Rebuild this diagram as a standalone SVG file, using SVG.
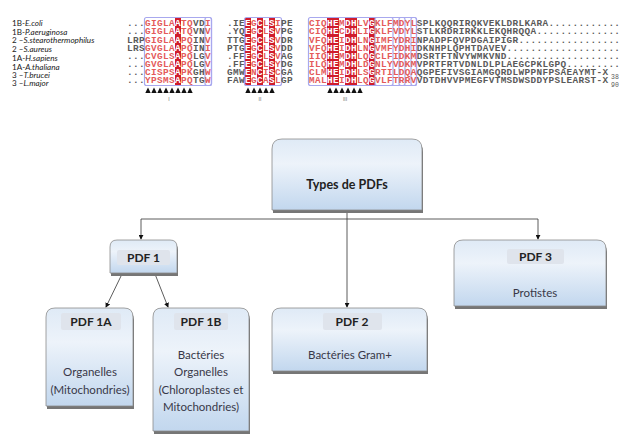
<svg xmlns="http://www.w3.org/2000/svg" width="627" height="443" viewBox="0 0 627 443">
<style>
.lbl{font-family:Lato,"Liberation Sans",Arial,sans-serif;font-size:8.1px;fill:#1a1a1a}
.it{font-style:italic}
.seq{font-family:"Liberation Mono","Courier New",monospace;font-size:9.4px;letter-spacing:0.36px;font-weight:bold}
.k{fill:#5a5a5a}
.r{fill:#e45a5a}
.w{fill:#ffffff}
.col{fill:#d01c2c}
.frm{fill:none;stroke:#a8a8ee;stroke-width:1.2}
.tri{fill:#111}
.num{font-family:"Liberation Sans",Arial,sans-serif;font-size:5px;fill:#666;text-anchor:middle}
.shadow{fill:#767676}
.box{fill:url(#g);stroke:#8c8c8c;stroke-width:0.8}
.band{fill:#dfe4ec}
.hd{font-family:Lato,"Liberation Sans",sans-serif;font-weight:bold;font-size:12px;fill:#222;text-anchor:middle}
.bd{font-family:Lato,"Liberation Sans",sans-serif;font-size:11.5px;fill:#383848;text-anchor:middle}
.edge{fill:none;stroke:#333;stroke-width:0.8}
</style>
<defs>
<linearGradient id="g" x1="0" y1="0" x2="0" y2="1">
<stop offset="0" stop-color="#dfeaf6"/>
<stop offset="0.35" stop-color="#edf3fa"/>
<stop offset="1" stop-color="#c2d7ee"/>
</linearGradient>
<marker id="arr" viewBox="0 0 6 6" refX="5" refY="3" markerWidth="5" markerHeight="5" markerUnits="userSpaceOnUse" orient="auto">
<path d="M0,0 L6,3 L0,6 Z" fill="#111"/>
</marker>
<path id="t" d="M-2.7,93 L0,87.5 L2.7,93 Z"/>
</defs>

<g id="alignment">
<g id="species-labels">
<text class="lbl" x="12" y="25.8">1B-<tspan class="it">E.coli</tspan></text>
<text class="lbl" x="12" y="34.6">1B-<tspan class="it">P.aeruginosa</tspan></text>
<text class="lbl" x="12" y="43.4">2 –<tspan class="it">S.stearothermophilus</tspan></text>
<text class="lbl" x="12" y="52.2">2 –<tspan class="it">S.aureus</tspan></text>
<text class="lbl" x="12" y="61">1A-<tspan class="it">H.sapiens</tspan></text>
<text class="lbl" x="12" y="69.8">1A-<tspan class="it">A.thaliana</tspan></text>
<text class="lbl" x="12" y="78.4">3 –<tspan class="it">T.brucei</tspan></text>
<text class="lbl" x="12" y="85.8">3 –<tspan class="it">L.major</tspan></text>
</g>
<g id="columns">
<rect class="col" x="175" y="18" width="6" height="67"/>
<rect class="col" x="245" y="18" width="6" height="67"/>
<rect class="col" x="257" y="18" width="6" height="67"/>
<rect class="col" x="269" y="18" width="6" height="67"/>
<rect class="col" x="327" y="18" width="12" height="67"/>
<rect class="col" x="345" y="18" width="12" height="67"/>
<rect class="col" x="369" y="18" width="6" height="67"/>
<rect class="frm" x="144.5" y="17.5" width="67" height="68" rx="2"/>
<rect class="frm" x="205" y="17.5" width="6.5" height="68" rx="2"/>
<rect class="frm" x="244.5" y="17.5" width="37" height="68" rx="2"/>
<rect class="frm" x="308.5" y="17.5" width="108" height="68" rx="2"/>
<rect class="frm" x="375" y="17.5" width="18" height="68" rx="2"/>
<rect class="frm" x="399" y="17.5" width="6" height="68" rx="2"/>
<rect class="frm" x="411" y="17.5" width="5.5" height="68" rx="2"/>
</g>
<g id="block1" class="seq">
<text x="127" y="26.3"><tspan class="k">...</tspan><tspan class="r">GIGLA</tspan><tspan class="w">A</tspan><tspan class="r">TQ</tspan><tspan class="k">VD</tspan><tspan class="r">I</tspan></text>
<text x="127" y="34.45"><tspan class="k">...</tspan><tspan class="r">GIGLA</tspan><tspan class="w">A</tspan><tspan class="r">TQ</tspan><tspan class="k">VN</tspan><tspan class="r">V</tspan></text>
<text x="127" y="42.6"><tspan class="k">LRP</tspan><tspan class="r">GIGLA</tspan><tspan class="w">A</tspan><tspan class="r">PQ</tspan><tspan class="k">IN</tspan><tspan class="r">V</tspan></text>
<text x="127" y="50.75"><tspan class="k">LRS</tspan><tspan class="r">GVGLA</tspan><tspan class="w">A</tspan><tspan class="r">PQ</tspan><tspan class="k">IN</tspan><tspan class="r">I</tspan></text>
<text x="127" y="58.9"><tspan class="k">...</tspan><tspan class="r">CVGLS</tspan><tspan class="w">A</tspan><tspan class="r">PQ</tspan><tspan class="k">LG</tspan><tspan class="r">V</tspan></text>
<text x="127" y="67.05"><tspan class="k">...</tspan><tspan class="r">GVGLA</tspan><tspan class="w">A</tspan><tspan class="r">PQ</tspan><tspan class="k">LG</tspan><tspan class="r">V</tspan></text>
<text x="127" y="75.2"><tspan class="k">...</tspan><tspan class="r">CISPS</tspan><tspan class="w">A</tspan><tspan class="r">PK</tspan><tspan class="k">GH</tspan><tspan class="r">W</tspan></text>
<text x="127" y="83.35"><tspan class="k">...</tspan><tspan class="r">YPSMS</tspan><tspan class="w">A</tspan><tspan class="r">PQ</tspan><tspan class="k">TG</tspan><tspan class="r">W</tspan></text>
</g>
<g id="block2" class="seq">
<text x="227" y="26.3"><tspan class="k">.IE</tspan><tspan class="w">E</tspan><tspan class="r">G</tspan><tspan class="w">C</tspan><tspan class="r">L</tspan><tspan class="w">S</tspan><tspan class="r">I</tspan><tspan class="k">PE</tspan></text>
<text x="227" y="34.45"><tspan class="k">.YQ</tspan><tspan class="w">E</tspan><tspan class="r">G</tspan><tspan class="w">C</tspan><tspan class="r">L</tspan><tspan class="w">S</tspan><tspan class="r">V</tspan><tspan class="k">PG</tspan></text>
<text x="227" y="42.6"><tspan class="k">TTG</tspan><tspan class="w">E</tspan><tspan class="r">G</tspan><tspan class="w">C</tspan><tspan class="r">L</tspan><tspan class="w">S</tspan><tspan class="r">V</tspan><tspan class="k">DR</tspan></text>
<text x="227" y="50.75"><tspan class="k">PTG</tspan><tspan class="w">E</tspan><tspan class="r">G</tspan><tspan class="w">C</tspan><tspan class="r">L</tspan><tspan class="w">S</tspan><tspan class="r">V</tspan><tspan class="k">DD</tspan></text>
<text x="227" y="58.9"><tspan class="k">.FF</tspan><tspan class="w">E</tspan><tspan class="r">G</tspan><tspan class="w">C</tspan><tspan class="r">L</tspan><tspan class="w">S</tspan><tspan class="r">V</tspan><tspan class="k">AG</tspan></text>
<text x="227" y="67.05"><tspan class="k">.FF</tspan><tspan class="w">E</tspan><tspan class="r">G</tspan><tspan class="w">C</tspan><tspan class="r">L</tspan><tspan class="w">S</tspan><tspan class="r">Y</tspan><tspan class="k">DG</tspan></text>
<text x="227" y="75.2"><tspan class="k">GMW</tspan><tspan class="w">E</tspan><tspan class="r">N</tspan><tspan class="w">C</tspan><tspan class="r">I</tspan><tspan class="w">S</tspan><tspan class="r">C</tspan><tspan class="k">GA</tspan></text>
<text x="227" y="83.35"><tspan class="k">FAW</tspan><tspan class="w">E</tspan><tspan class="r">G</tspan><tspan class="w">C</tspan><tspan class="r">A</tspan><tspan class="w">S</tspan><tspan class="r">L</tspan><tspan class="k">GP</tspan></text>
</g>
<g id="block3" class="seq">
<text x="309" y="26.3"><tspan class="r">CIQ</tspan><tspan class="w">HE</tspan><tspan class="r">M</tspan><tspan class="w">DH</tspan><tspan class="r">LV</tspan><tspan class="w">G</tspan><tspan class="r">KLFMDYL</tspan><tspan class="k">SPLKQQRIRQKVEKLDRLKARA............</tspan></text>
<text x="309" y="34.45"><tspan class="r">CIQ</tspan><tspan class="w">HE</tspan><tspan class="r">C</tspan><tspan class="w">DH</tspan><tspan class="r">LI</tspan><tspan class="w">G</tspan><tspan class="r">KLFVDYL</tspan><tspan class="k">STLKRDRIRKKLEKQHRQQA..............</tspan></text>
<text x="309" y="42.6"><tspan class="r">VFQ</tspan><tspan class="w">HE</tspan><tspan class="r">I</tspan><tspan class="w">DH</tspan><tspan class="r">LN</tspan><tspan class="w">G</tspan><tspan class="r">IMFYDRI</tspan><tspan class="k">NPADPFQVPDGAIPIGR.................</tspan></text>
<text x="309" y="50.75"><tspan class="r">VFQ</tspan><tspan class="w">HE</tspan><tspan class="r">I</tspan><tspan class="w">DH</tspan><tspan class="r">LN</tspan><tspan class="w">G</tspan><tspan class="r">VMFYDHI</tspan><tspan class="k">DKNHPLQPHTDAVEV...................</tspan></text>
<text x="309" y="58.9"><tspan class="r">IIQ</tspan><tspan class="w">HE</tspan><tspan class="r">M</tspan><tspan class="w">DH</tspan><tspan class="r">LQ</tspan><tspan class="w">G</tspan><tspan class="r">CLFIDKM</tspan><tspan class="k">DSRTFTNVYWMKVND...................</tspan></text>
<text x="309" y="67.05"><tspan class="r">ILQ</tspan><tspan class="w">HE</tspan><tspan class="r">M</tspan><tspan class="w">DH</tspan><tspan class="r">LD</tspan><tspan class="w">G</tspan><tspan class="r">NLYVDKM</tspan><tspan class="k">VPRTFRTVDNLDLPLAEGCPKLGPQ.........</tspan></text>
<text x="309" y="75.2"><tspan class="r">CLM</tspan><tspan class="w">HE</tspan><tspan class="r">I</tspan><tspan class="w">DH</tspan><tspan class="r">LS</tspan><tspan class="w">G</tspan><tspan class="r">RTILDQA</tspan><tspan class="k">QGPEFIVSGIAMGQRDLWPPNFPSAEAYMT-X</tspan></text>
<text x="309" y="83.35"><tspan class="r">MAL</tspan><tspan class="w">HE</tspan><tspan class="r">I</tspan><tspan class="w">DH</tspan><tspan class="r">LQ</tspan><tspan class="w">G</tspan><tspan class="r">VLFTRRV</tspan><tspan class="k">VDTDHVVPMEGFVTMSDWSDDYPSLEARST-X</tspan></text>
<text x="611" y="79" style="font-size:6.5px;font-weight:normal;letter-spacing:0" class="k">38</text>
<text x="611" y="87" style="font-size:6.5px;font-weight:normal;letter-spacing:0" class="k">90</text>
</g>
<g id="motifs" class="tri">
<use href="#t" x="148"/><use href="#t" x="154"/><use href="#t" x="160"/><use href="#t" x="166"/>
<use href="#t" x="172"/><use href="#t" x="178"/><use href="#t" x="184"/><use href="#t" x="190"/>
<use href="#t" x="248"/><use href="#t" x="254"/><use href="#t" x="260"/><use href="#t" x="266"/><use href="#t" x="272"/>
<use href="#t" x="330"/><use href="#t" x="336"/><use href="#t" x="342"/><use href="#t" x="348"/><use href="#t" x="354"/><use href="#t" x="360"/>
<text class="num" x="169" y="101">I</text>
<text class="num" x="260" y="101">II</text>
<text class="num" x="345" y="101">III</text>
</g>
</g>

<g id="connectors">
<path class="edge" d="M347,211 V307" marker-end="url(#arr)"/>
<path class="edge" d="M141,219 H538"/>
<path class="edge" d="M141,219 V239" marker-end="url(#arr)"/>
<path class="edge" d="M538,219 V239" marker-end="url(#arr)"/>
<path class="edge" d="M122,274 L106,307" marker-end="url(#arr)"/>
<path class="edge" d="M155,274 L168,307" marker-end="url(#arr)"/>
</g>

<g id="types">
<path class="shadow" d="M273,213 V149 Q273,142 283,142 H413 Q423,142 423,152 V213 Z"/>
<path class="box" d="M272,210 V149 Q272,139 282,139 H412 Q422,139 422,149 V210 Z"/>
<text class="hd" x="347" y="189" style="font-size:12.5px">Types de PDFs</text>
</g>

<g id="pdf1">
<path class="shadow" d="M111,276 V248 Q111,243 118,243 H171 Q178,243 178,250 V276 Z"/>
<path class="box" d="M110,273 V247 Q110,240 117,240 H170 Q177,240 177,247 V273 Z"/>
<rect class="band" x="117" y="250" width="53" height="15" rx="2"/>
<text class="hd" x="143.5" y="261.5">PDF 1</text>
</g>

<g id="pdf1a">
<path class="shadow" d="M47,409 V320 Q47,311 56,311 H125 Q134,311 134,320 V409 Z"/>
<path class="box" d="M46,406 V317 Q46,308 55,308 H124 Q133,308 133,317 V406 Z"/>
<rect class="band" x="61" y="313" width="60" height="17" rx="2"/>
<text class="hd" x="91" y="325.5">PDF 1A</text>
<text class="bd" x="90" y="376">Organelles</text>
<text class="bd" x="90" y="394">(Mitochondries)</text>
</g>

<g id="pdf1b">
<path class="shadow" d="M154,434 V320 Q154,311 163,311 H241 Q250,311 250,320 V434 Z"/>
<path class="box" d="M153,431 V317 Q153,308 162,308 H240 Q249,308 249,317 V431 Z"/>
<rect class="band" x="174" y="313" width="54" height="17" rx="2"/>
<text class="hd" x="201" y="325.5">PDF 1B</text>
<text class="bd" x="201" y="359">Bactéries</text>
<text class="bd" x="201" y="376">Organelles</text>
<text class="bd" x="201" y="394">(Chloroplastes et</text>
<text class="bd" x="201" y="411">Mitochondries)</text>
</g>

<g id="pdf2">
<path class="shadow" d="M273,374 V320 Q273,311 282,311 H419 Q428,311 428,320 V374 Z"/>
<path class="box" d="M272,371 V317 Q272,308 281,308 H418 Q427,308 427,317 V371 Z"/>
<rect class="band" x="323" y="313" width="59" height="17" rx="2"/>
<text class="hd" x="352" y="325.5">PDF 2</text>
<text class="bd" x="350" y="359">Bactéries Gram+</text>
</g>

<g id="pdf3">
<path class="shadow" d="M455,309 V252 Q455,243 464,243 H598 Q607,243 607,252 V309 Z"/>
<path class="box" d="M454,306 V249 Q454,240 463,240 H597 Q606,240 606,249 V306 Z"/>
<rect class="band" x="507" y="249" width="57" height="15" rx="2"/>
<text class="hd" x="535.5" y="260.5">PDF 3</text>
<text class="bd" x="535" y="297">Protistes</text>
</g>
</svg>
